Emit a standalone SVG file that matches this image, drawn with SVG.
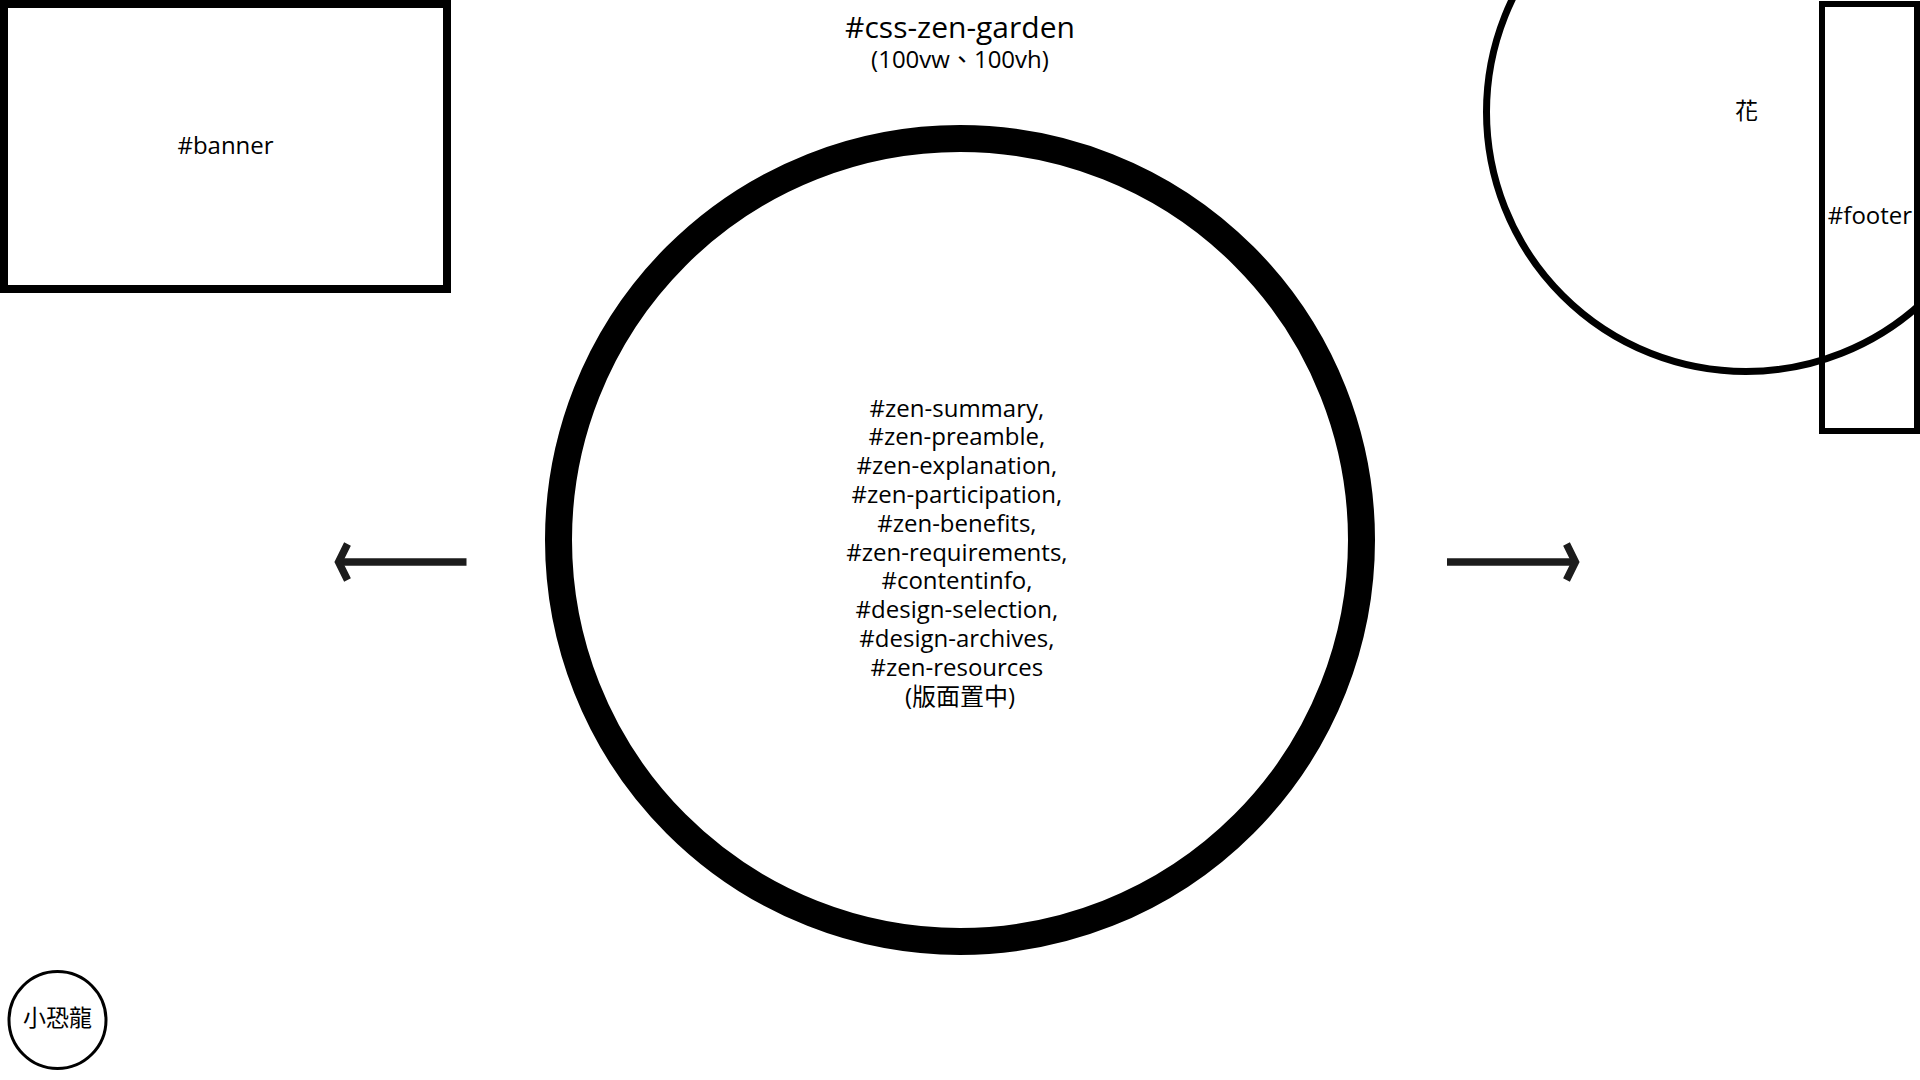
<svg xmlns="http://www.w3.org/2000/svg" width="1920" height="1080" viewBox="0 0 1920 1080">
  <style>
    text { font-family: "Open Sans", "Noto Sans CJK TC", sans-serif; fill: #000; text-anchor: middle; }
    .lbl { font-size: 24px; }
    .cjk { font-family: "Noto Sans CJK TC", "Open Sans", sans-serif; font-size: 23px; }
    .title { font-size: 30px; }
    .shape { fill: none; stroke: #000; }
    .arrow { fill: none; stroke: #1c1c1c; stroke-width: 7.5; stroke-linejoin: miter; stroke-linecap: butt; }
  </style>
  <rect width="1920" height="1080" fill="#fff"/>

  <g id="css-zen-garden">
    <text class="title" x="960" y="38">#css-zen-garden</text>
    <text class="lbl" x="960" y="68">(100vw、100vh)</text>
  </g>

  <g id="banner">
    <rect class="shape" x="4" y="4" width="443" height="285" stroke-width="8"/>
    <text class="lbl" x="225.5" y="154">#banner</text>
  </g>

  <g id="flower">
    <circle class="shape" cx="1746" cy="112" r="259.5" stroke-width="7"/>
    <text class="cjk" x="1746.5" y="119">花</text>
  </g>

  <g id="footer">
    <rect class="shape" x="1822" y="4" width="95" height="427" stroke-width="6"/>
    <text class="lbl" x="1870" y="224">#footer</text>
  </g>

  <g id="content">
    <circle class="shape" cx="960" cy="540" r="401.5" stroke-width="27"/>
    <text class="lbl" x="960" y="416.5">
      <tspan x="960">#zen-summary,</tspan>
      <tspan x="960" dy="28.8">#zen-preamble,</tspan>
      <tspan x="960" dy="28.8">#zen-explanation,</tspan>
      <tspan x="960" dy="28.8">#zen-participation,</tspan>
      <tspan x="960" dy="28.8">#zen-benefits,</tspan>
      <tspan x="960" dy="28.8">#zen-requirements,</tspan>
      <tspan x="960" dy="28.8">#contentinfo,</tspan>
      <tspan x="960" dy="28.8">#design-selection,</tspan>
      <tspan x="960" dy="28.8">#design-archives,</tspan>
      <tspan x="960" dy="28.8">#zen-resources</tspan>
      <tspan x="960" dy="28.8">(版面置中)</tspan>
    </text>
  </g>

  <g id="dino">
    <circle class="shape" cx="57.5" cy="1020" r="48.5" stroke-width="3"/>
    <text class="cjk" x="57.5" y="1026">小恐龍</text>
  </g>

  <g id="connectors">
    <line class="arrow" x1="338" y1="562" x2="466.5" y2="562"/>
    <polyline class="arrow" points="347.5,544 338.6,562 347.5,580"/>
    <line class="arrow" x1="1447" y1="562" x2="1576" y2="562"/>
    <polyline class="arrow" points="1566.5,544 1575.4,562 1566.5,580"/>
  </g>
</svg>
